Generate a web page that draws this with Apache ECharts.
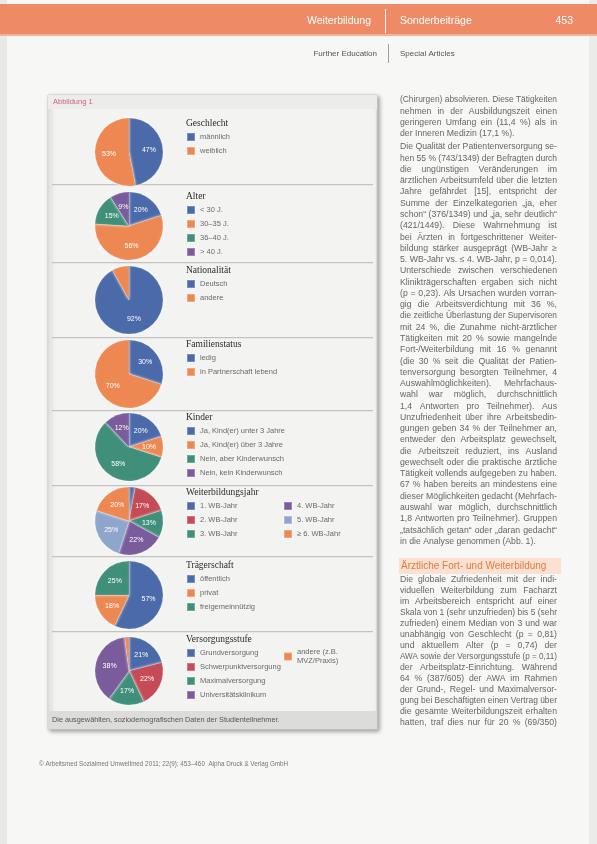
<!DOCTYPE html>
<html><head><meta charset="utf-8">
<script src="https://cdn.jsdelivr.net/npm/echarts@6/dist/echarts.min.js"></script>
<style>html,body{margin:0;padding:0;background:#f6f6f5;}#c{width:597px;height:844px;}</style>
</head><body><div id="c"></div>
<script>
// ---------- data ----------
const panelTitles = ['Geschlecht','Alter','Nationalität','Familienstatus','Kinder','Weiterbildungsjahr','Trägerschaft','Versorgungsstufe'];
const sexCats = ['männlich','weiblich'];
const sexVals = [47,53];
const ageCats = ['< 30 J.','30–35 J.','36–40 J.','> 40 J.'];
const ageVals = [20,56,15,9];
const natCats = ['Deutsch','andere'];
const natVals = [92,8];
const famCats = ['ledig','in Partnerschaft lebend'];
const famVals = [30,70];
const kidCats = ['Ja, Kind(er) unter 3 Jahre','Ja, Kind(er) über 3 Jahre','Nein, aber Kinderwunsch','Nein, kein Kinderwunsch'];
const kidVals = [20,10,58,12];
const wbCats = ['1. WB-Jahr','2. WB-Jahr','3. WB-Jahr','4. WB-Jahr','5. WB-Jahr','≥ 6. WB-Jahr'];
const wbVals = [3,17,13,22,25,20];
const tragCats = ['öffentlich','privat','freigemeinnützig'];
const tragVals = [57,18,25];
const versCats = ['Grundversorgung','Schwerpunktversorgung','Maximalversorgung','Universitätsklinikum','andere (z.B. MVZ/Praxis)'];
const versVals = [21,22,17,38,2];

// ---------- styles / layout ----------
const C = {blue:'#4a6aa9', orange:'#ee8852', green:'#3f8f7b', purple:'#7a5c9c', red:'#c54b56', aqua:'#8ea6cb'};
const palettes = [
  [C.blue,C.orange],
  [C.blue,C.orange,C.green,C.purple],
  [C.blue,C.orange],
  [C.blue,C.orange],
  [C.blue,C.orange,C.green,C.purple],
  [C.blue,C.red,C.green,C.purple,C.aqua,C.orange],
  [C.blue,C.orange,C.green],
  [C.blue,C.red,C.green,C.purple,C.orange]
];
const panels = [[sexCats,sexVals],[ageCats,ageVals],[natCats,natVals],[famCats,famVals],[kidCats,kidVals],[wbCats,wbVals],[tragCats,tragVals],[versCats,versVals]];
const pieCY = [152,226,300,374,447,521,595,671];
const titleY = [123,196,270,344,417,492,565,639];
const sepY = [184,262,337,410,485,556,631];
const pieCX = 129, pieR = 34;

const series = panels.map((p,k)=>({
  type:'pie', center:[pieCX,pieCY[k]], radius:pieR, startAngle:90, clockwise:true,
  silent:true, animation:false,
  label:{show:true, position:'inside', color:'#fff', fontSize:7, fontFamily:'Liberation Sans',
         formatter: q => q.value>=9 ? q.value+'%' : ''},
  labelLine:{show:false},
  itemStyle:{borderColor:'rgba(255,255,255,0.25)', borderWidth:0.5, shadowColor:'rgba(255,255,255,0.95)', shadowBlur:3},
  data: p[0].map((n,i)=>({name:n, value:p[1][i], itemStyle:{color:palettes[k][i]}}))
}));

const legendBase = {orient:'vertical', icon:'rect', itemWidth:8, itemHeight:8, itemGap:4, padding:0,
  selectedMode:false, textStyle:{fontSize:7.5, color:'#6a6a6a', fontFamily:'Liberation Sans', lineHeight:8.5}};
const legends = [];
panels.forEach((p,k)=>{
  let cats = p[0];
  if (k===5) {
    legends.push(Object.assign({}, legendBase, {left:186, top:titleY[k]+9, data:cats.slice(0,3)}));
    legends.push(Object.assign({}, legendBase, {left:283, top:titleY[k]+9, data:cats.slice(3)}));
  } else if (k===7) {
    legends.push(Object.assign({}, legendBase, {left:186, top:titleY[k]+9, data:cats.slice(0,4)}));
    legends.push(Object.assign({}, legendBase, {left:283, top:titleY[k]+9, data:cats.slice(4),
      formatter: n => n.replace('(z.B. ','(z.B.\n')}));
  } else {
    legends.push(Object.assign({}, legendBase, {left:186, top:titleY[k]+9, data:cats}));
  }
});

// ---------- page text ----------
const para1 = [
 '(Chirurgen) absolvieren. Diese Tätigkeiten',
 'nehmen in der Ausbildungszeit einen',
 'geringeren Umfang ein (11,4 %) als in',
 'der Inneren Medizin (17,1 %).'];
const para2 = [
 'Die Qualität der Patientenversorgung se-',
 'hen 55 % (743/1349) der Befragten durch',
 'die ungünstigen Veränderungen im',
 'ärztlichen Arbeitsumfeld über die letzten',
 'Jahre gefährdet [15], entspricht der',
 'Summe der Einzelkategorien „ja, eher',
 'schon“ (376/1349) und „ja, sehr deutlich“',
 '(421/1449). Diese Wahrnehmung ist',
 'bei Ärzten in fortgeschrittener Weiter-',
 'bildung stärker ausgeprägt (WB-Jahr ≥',
 '5. WB-Jahr vs. ≤ 4. WB-Jahr, p = 0,014).',
 'Unterschiede zwischen verschiedenen',
 'Klinikträgerschaften ergaben sich nicht',
 '(p = 0,23). Als Ursachen wurden vorran-',
 'gig die Arbeitsverdichtung mit 36 %,',
 'die zeitliche Überlastung der Supervisoren',
 'mit 24 %, die Zunahme nicht-ärztlicher',
 'Tätigkeiten mit 20 % sowie mangelnde',
 'Fort-/Weiterbildung mit 16 % genannt',
 '(die 30 % seit die Qualität der Patien-',
 'tenversorgung besorgten Teilnehmer, 4',
 'Auswahlmöglichkeiten). Mehrfachaus-',
 'wahl war möglich, durchschnittlich',
 '1,4 Antworten pro Teilnehmer). Aus',
 'Unzufriedenheit über ihre Arbeitsbedin-',
 'gungen geben 34 % der Teilnehmer an,',
 'entweder den Arbeitsplatz gewechselt,',
 'die Arbeitszeit reduziert, ins Ausland',
 'gewechselt oder die praktische ärztliche',
 'Tätigkeit vollends aufgegeben zu haben.',
 '67 % haben bereits an mindestens eine',
 'dieser Möglichkeiten gedacht (Mehrfach-',
 'auswahl war möglich, durchschnittlich',
 '1,8 Antworten pro Teilnehmer). Gruppen',
 '„tatsächlich getan“ oder „daran gedacht“',
 'in die Analyse genommen (Abb. 1).'];
const para3 = [
 'Die globale Zufriedenheit mit der indi-',
 'viduellen Weiterbildung zum Facharzt',
 'im Arbeitsbereich entspricht auf einer',
 'Skala von 1 (sehr unzufrieden) bis 5 (sehr',
 'zufrieden) einem Median von 3 und war',
 'unabhängig von Geschlecht (p = 0,81)',
 'und aktuellem Alter (p = 0,74) der',
 'AWA sowie der Versorgungsstufe (p = 0,11)',
 'der Arbeitsplatz-Einrichtung. Während',
 '64 % (387/605) der AWA im Rahmen',
 'der Grund-, Regel- und Maximalversor-',
 'gung bei Beschäftigten einen Vertrag über',
 'die gesamte Weiterbildungszeit erhalten',
 'hatten, traf dies nur für 20 % (69/350)'];

const mctx = document.createElement('canvas').getContext('2d');
function textBlock(lines, x, y0, lh, width, size, fill, lastJustify) {
  mctx.font = size + 'px "Liberation Sans"';
  const sp = mctx.measureText(' ').width;
  const out = [];
  lines.forEach((t,i)=>{
    const y = y0 + i*lh;
    const words = t.split(' ');
    const ww = words.map(w=>mctx.measureText(w).width);
    const sum = ww.reduce((a,b)=>a+b,0);
    const natural = sum + sp*(words.length-1);
    const last = i===lines.length-1 && !lastJustify;
    let s = natural > width ? width/natural : 1;
    let gap = sp*s;
    if (!last && natural <= width && words.length>1) gap = (width - sum)/(words.length-1);
    let cx = x;
    words.forEach((w,j)=>{
      out.push({type:'text', x:cx, y:y, scaleX:s, silent:true,
        style:{text:w, fontSize:size, fontFamily:'Liberation Sans', fill:fill, verticalAlign:'middle'}});
      cx += ww[j]*s + gap;
    });
  });
  return out;
}

const graphics = [];
// scan edges
graphics.push({type:'rect', shape:{x:0,y:0,width:7,height:844}, style:{fill:'#e9e9e8'}, silent:true});
graphics.push({type:'rect', shape:{x:589,y:0,width:8,height:844}, style:{fill:'#ebebea'}, silent:true});
// header band
graphics.push({type:'rect', shape:{x:0,y:4,width:597,height:32}, style:{fill:'#ee8a66'}, silent:true});
graphics.push({type:'rect', shape:{x:0,y:34,width:597,height:2}, style:{fill:'#f4b196'}, silent:true});
graphics.push({type:'text', x:371, y:21, silent:true, style:{text:'Weiterbildung', align:'right', verticalAlign:'middle', fontSize:10.5, fontFamily:'Liberation Sans', fill:'#fff'}});
graphics.push({type:'rect', shape:{x:385,y:9,width:1,height:24}, style:{fill:'#fff'}, silent:true});
graphics.push({type:'text', x:400, y:21, silent:true, style:{text:'Sonderbeiträge', verticalAlign:'middle', fontSize:10.5, fontFamily:'Liberation Sans', fill:'#fff'}});
graphics.push({type:'text', x:573, y:21, silent:true, style:{text:'453', align:'right', verticalAlign:'middle', fontSize:10.5, fontFamily:'Liberation Sans', fill:'#fff'}});
// sub header
graphics.push({type:'text', x:377, y:54, silent:true, style:{text:'Further Education', align:'right', verticalAlign:'middle', fontSize:8, fontFamily:'Liberation Sans', fill:'#555'}});
graphics.push({type:'rect', shape:{x:388,y:44,width:0.8,height:19}, style:{fill:'#888'}, silent:true});
graphics.push({type:'text', x:400, y:54, silent:true, style:{text:'Special Articles', verticalAlign:'middle', fontSize:8, fontFamily:'Liberation Sans', fill:'#555'}});

// figure box
graphics.push({type:'rect', shape:{x:48,y:95,width:329,height:634}, silent:true,
  style:{fill:'#f3f3f2', stroke:'#cfcfcf', lineWidth:1, shadowBlur:4, shadowOffsetX:2, shadowOffsetY:2, shadowColor:'rgba(0,0,0,0.35)'}});
graphics.push({type:'rect', shape:{x:48,y:95,width:329,height:14}, style:{fill:'#ececeb'}, silent:true});
graphics.push({type:'text', x:53, y:102, silent:true, style:{text:'Abbildung 1', verticalAlign:'middle', fontSize:7.5, fontFamily:'Liberation Sans', fill:'#d5607a'}});
sepY.forEach(y=>{
  graphics.push({type:'rect', shape:{x:52,y:y,width:321,height:1}, style:{fill:'#c3c3c3'}, silent:true});
  graphics.push({type:'rect', shape:{x:52,y:y+1.5,width:321,height:0.6}, style:{fill:'#dcdcdc'}, silent:true});
});
panelTitles.forEach((t,k)=>{
  graphics.push({type:'text', x:186, y:titleY[k], silent:true,
    style:{text:t, verticalAlign:'middle', fontSize:9.5, fontFamily:'Liberation Serif', fill:'#2a2a2a'}});
});
graphics.push({type:'rect', shape:{x:48,y:711,width:329,height:17}, style:{fill:'#dcdcdb'}, silent:true});
graphics.push({type:'text', x:52, y:719.5, silent:true, style:{text:'Die ausgewählten, soziodemografischen Daten der Studienteilnehmer.', verticalAlign:'middle', fontSize:7.3, fontFamily:'Liberation Sans', fill:'#555'}});

// right column text
const bodySize = 8.7, bodyFill = '#666';
graphics.push(...textBlock(para1, 400, 100, 11.27, 157, bodySize, bodyFill));
graphics.push(...textBlock(para2, 400, 147, 11.27, 157, bodySize, bodyFill));
graphics.push({type:'rect', shape:{x:399,y:558,width:162,height:16}, style:{fill:'#fbe1d1'}, silent:true});
graphics.push({type:'text', x:401, y:566, silent:true, style:{text:'Ärztliche Fort- und Weiterbildung', verticalAlign:'middle', fontSize:10, fontFamily:'Liberation Sans', fill:'#df7a3f'}});
graphics.push(...textBlock(para3, 400, 580, 11, 157, bodySize, bodyFill, true));

// footer
graphics.push({type:'text', x:39, y:764, silent:true, style:{text:'© Arbeitsmed Sozialmed Umweltmed 2011; 22(9): 453–460  Alpha Druck & Verlag GmbH', verticalAlign:'middle', fontSize:6.3, fontFamily:'Liberation Sans', fill:'#777'}});

const chart = echarts.init(document.getElementById('c'), null, {renderer:'canvas'});
chart.setOption({
  animation:false,
  backgroundColor:'#f7f7f6',
  graphic: graphics.map(g=>Object.assign({z:-1}, g)),
  legend: legends,
  series: series
});
</script>
</body></html>
